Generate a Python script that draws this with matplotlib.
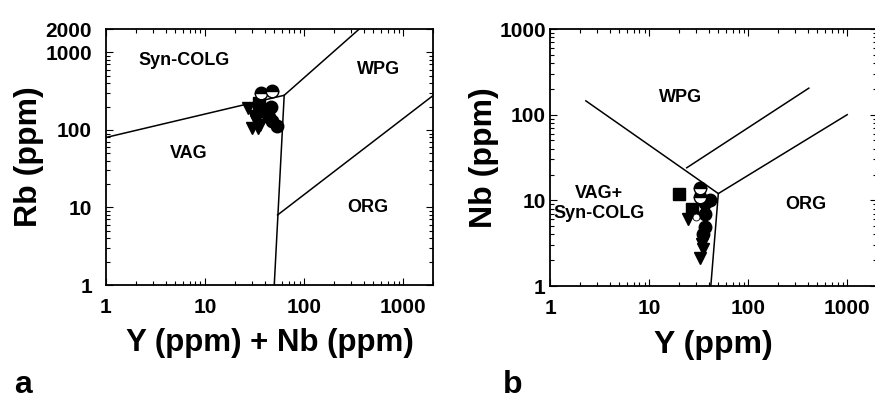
import matplotlib
matplotlib.use("Agg")
import matplotlib.pyplot as plt
from matplotlib.ticker import LogLocator, NullFormatter, FixedLocator, FixedFormatter

plt.rcParams['font.family'] = ['Liberation Sans', 'DejaVu Sans']
plt.rcParams['font.weight'] = 'bold'

# ---- Panel a: Rb vs Y+Nb ----
a_bound_x1 = [1, 63]          # syn-COLG / VAG
a_bound_y1 = [80, 280]
a_bound_x2 = [50, 63, 360]    # VAG / ORG / WPG
a_bound_y2 = [1, 280, 2000]
a_bound_x3 = [54, 2000]       # WPG / ORG
a_bound_y3 = [8, 277]

a_circ_x = [53, 46, 44, 42, 48]
a_circ_y = [112, 200, 145, 165, 130]
a_half_x = [37, 47]
a_half_y = [297, 316]
a_tri_x = [27, 30, 34, 31, 36, 33]
a_tri_y = [190, 105, 105, 150, 115, 130]
a_sq_x = [35, 38]
a_sq_y = [220, 180]

# ---- Panel b: Nb vs Y ----
b_bound_x1 = [2.3, 50]
b_bound_y1 = [145, 12]
b_bound_x2 = [42, 50, 1000]
b_bound_y2 = [1, 12, 100]
b_bound_x3 = [24, 410]
b_bound_y3 = [24, 204]

b_sq_x = [20, 27]
b_sq_y = [12, 8]
b_half_x = [33, 32.5]
b_half_y = [14, 10.9]
b_open_x = [30]
b_open_y = [6.4]
b_circ_x = [41, 37, 36.5, 36.5, 35]
b_circ_y = [10, 9.2, 7, 4.9, 4.1]
b_tri_x = [25, 34, 35, 32.7]
b_tri_y = [6.1, 3.1, 2.7, 2.1]

fig = plt.figure(figsize=(8.75, 4.03), dpi=100)
axa = fig.add_axes([0.1211, 0.2928, 0.3737, 0.635])
axb = fig.add_axes([0.6286, 0.2903, 0.3737, 0.6377])

lw = 1.1
ms = 9

def style(ax, xlim, ylim, yticks, yticklabels, ypad):
    ax.set_xscale('log'); ax.set_yscale('log')
    ax.set_xlim(*xlim); ax.set_ylim(*ylim)
    ax.xaxis.set_major_locator(FixedLocator([1, 10, 100, 1000]))
    ax.xaxis.set_major_formatter(FixedFormatter(['1', '10', '100', '1000']))
    ax.yaxis.set_major_locator(FixedLocator(yticks))
    ax.yaxis.set_major_formatter(FixedFormatter(yticklabels))
    ax.xaxis.set_minor_locator(LogLocator(base=10, subs=range(2, 10), numticks=20))
    ax.yaxis.set_minor_locator(LogLocator(base=10, subs=range(2, 10), numticks=20))
    ax.xaxis.set_minor_formatter(NullFormatter())
    ax.yaxis.set_minor_formatter(NullFormatter())
    ax.tick_params(which='both', direction='in', top=True, right=True, width=0.8)
    ax.tick_params(which='major', length=5, labelsize=15)
    ax.tick_params(which='minor', length=3)
    ax.tick_params(axis='y', which='major', pad=ypad)
    ax.tick_params(axis='x', which='major', pad=9)
    for s in ax.spines.values():
        s.set_linewidth(1.3)
    for lab in ax.get_xticklabels() + ax.get_yticklabels():
        lab.set_fontweight('bold')

style(axa, (1, 2000), (1, 2000), [1, 10, 100, 1000, 2000], ['1', '10', '100', '1000', '2000'], 10)
style(axb, (1, 2000), (1, 1000), [1, 10, 100, 1000], ['1', '10', '100', '1000'], 3)

for ax, lines in [(axa, [(a_bound_x1, a_bound_y1), (a_bound_x2, a_bound_y2), (a_bound_x3, a_bound_y3)]),
                  (axb, [(b_bound_x1, b_bound_y1), (b_bound_x2, b_bound_y2), (b_bound_x3, b_bound_y3)])]:
    for xs, ys in lines:
        ax.plot(xs, ys, color='black', lw=lw, zorder=2)

def points(ax, tx, ty, sx, sy, hx, hy, cx, cy, ox=None, oy=None):
    ax.plot(tx, ty, 'v', color='black', ms=ms, ls='none', zorder=3)
    ax.plot(sx, sy, 's', color='black', ms=ms - 0.5, ls='none', zorder=3)
    ax.plot(cx, cy, 'o', color='black', ms=ms, ls='none', zorder=4)
    ax.plot(hx, hy, 'o', markerfacecolor='black', markerfacecoloralt='white', fillstyle='top',
            markeredgecolor='black', ms=ms, ls='none', zorder=5)
    if ox is not None:
        ax.plot(ox, oy, 'o', markerfacecolor='white', markeredgecolor='black', ms=5, mew=0.6,
                ls='none', zorder=5)

points(axa, a_tri_x, a_tri_y, a_sq_x, a_sq_y, a_half_x, a_half_y, a_circ_x, a_circ_y)
points(axb, b_tri_x, b_tri_y, b_sq_x, b_sq_y, b_half_x, b_half_y, b_circ_x, b_circ_y, b_open_x, b_open_y)

rfs = 13
axa.text(6.1, 790, 'Syn-COLG', ha='center', va='center', fontsize=rfs, fontweight='bold')
axa.text(569, 605, 'WPG', ha='center', va='center', fontsize=rfs, fontweight='bold')
axa.text(6.9, 49, 'VAG', ha='center', va='center', fontsize=rfs, fontweight='bold')
axa.text(440, 10, 'ORG', ha='center', va='center', fontsize=rfs, fontweight='bold')

axb.text(21, 159, 'WPG', ha='center', va='center', fontsize=rfs, fontweight='bold')
axb.text(3.1, 9.2, 'VAG+\nSyn-COLG', ha='center', va='center', fontsize=rfs, fontweight='bold',
         linespacing=1.25)
axb.text(385, 9, 'ORG', ha='center', va='center', fontsize=rfs, fontweight='bold')

axa.set_xlabel('Y (ppm) + Nb (ppm)', fontsize=22.5, fontweight='bold', labelpad=8)
axa.set_ylabel('Rb (ppm)', fontsize=23, fontweight='bold', labelpad=1)
axb.set_xlabel('Y (ppm)', fontsize=23, fontweight='bold', labelpad=9)
axb.set_ylabel('Nb (ppm)', fontsize=23, fontweight='bold', labelpad=0)

fig.text(0.016, 0.025, 'a', fontsize=23, fontweight='bold', va='baseline')
fig.text(0.575, 0.025, 'b', fontsize=23, fontweight='bold', va='baseline')

fig.savefig('out.png', dpi=100)
